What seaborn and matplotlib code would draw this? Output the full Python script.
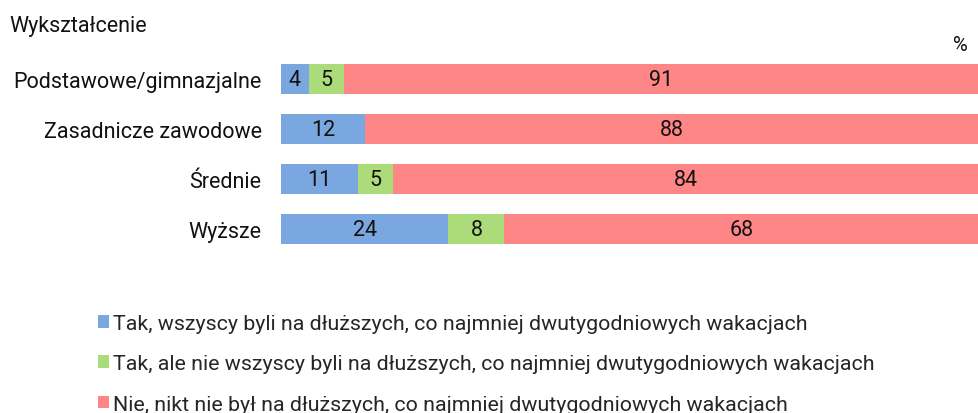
import pandas as pd
import matplotlib.pyplot as plt
import seaborn as sns

# Data
categories = ['Podstawowe/gimnazjalne', 'Zasadnicze zawodowe', 'Średnie', 'Wyższe']
all_went = [4, 12, 11, 24]
some_went = [5, 0, 5, 8]
none_went = [91, 88, 84, 68]
series_names = [
    'Tak, wszyscy byli na dłuższych, co najmniej dwutygodniowych wakacjach',
    'Tak, ale nie wszyscy byli na dłuższych, co najmniej dwutygodniowych wakacjach',
    'Nie, nikt nie był na dłuższych, co najmniej dwutygodniowych wakacjach',
]
colors = ['#7ba7e0', '#acdc7a', '#ff8686']

sns.set_theme(style='white')
plt.rcParams['font.family'] = ['Roboto', 'DejaVu Sans']
fs = 15.5

df = pd.DataFrame({'cat': categories, 'a': all_went, 'b': some_went, 'c': none_went})
df['cum_a'] = df['a']
df['cum_b'] = df['a'] + df['b']
df['cum_c'] = df['a'] + df['b'] + df['c']

fig = plt.figure(figsize=(9.79, 4.14), dpi=100)
ax = fig.add_axes([0.287, 0.384, 0.713, 0.483])

# stacked bars: draw the cumulative totals from the back to the front
for col, color, name in zip(['cum_c', 'cum_b', 'cum_a'], colors[::-1], series_names[::-1]):
    sns.barplot(data=df, x=col, y='cat', orient='h', color=color, width=0.6,
                saturation=1, linewidth=0, ax=ax, label=name)

# value labels in the middle of each segment
for i, row in df.iterrows():
    left = 0
    for col in ['a', 'b', 'c']:
        v = row[col]
        if v > 0:
            ax.text(left + v / 2, i, str(v), ha='center', va='center', fontsize=fs, color='#111111')
        left += v

ax.set_xlim(0, 100)
ax.set_ylim(3.5, -0.5)
ax.set_xlabel('')
ax.set_ylabel('')
ax.set_xticks([])
ax.tick_params(axis='y', length=0, labelsize=fs, pad=14, colors='#111111')
sns.despine(ax=ax, left=True, bottom=True)
if ax.get_legend():
    ax.get_legend().remove()

fig.text(0.01, 0.935, 'Wykształcenie', fontsize=fs, va='center', color='#111111')
fig.text(0.988, 0.89, '%', fontsize=fs - 1, ha='right', va='center', color='#111111')

handles, labels = ax.get_legend_handles_labels()
fig.legend(handles[::-1], labels[::-1], loc='upper left', bbox_to_anchor=(0.091, 0.26),
           frameon=False, fontsize=15.4, handlelength=0.52, handleheight=0.52,
           handletextpad=0.2, labelspacing=1.0, borderaxespad=0)

plt.savefig('out.png', dpi=100)
